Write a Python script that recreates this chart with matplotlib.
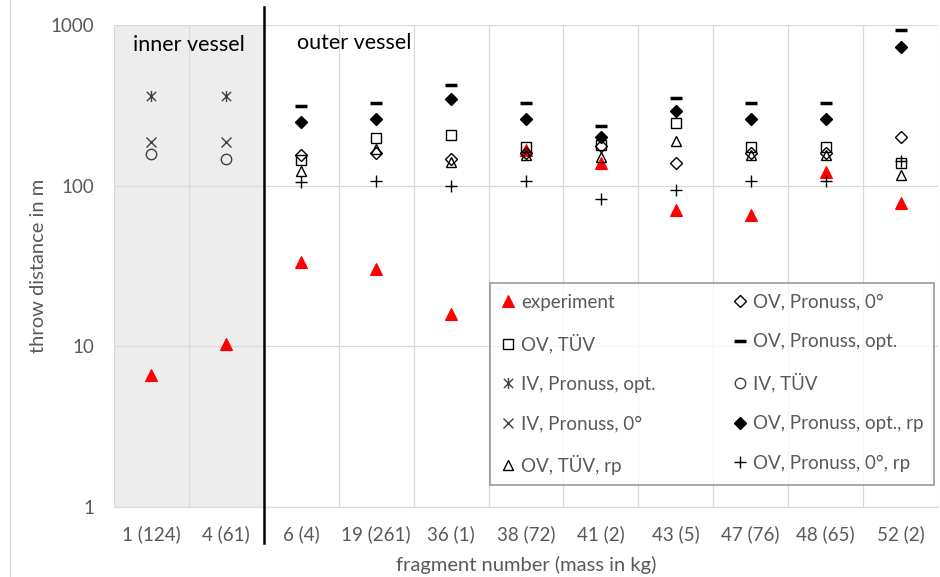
# throw distance of fragments - experiment vs. models

import numpy as np
import matplotlib
matplotlib.use('Agg')
import matplotlib.pyplot as plt
from matplotlib.path import Path
from matplotlib.lines import Line2D

nan = np.nan

# x categories: fragment number (mass in kg)
categories = ['1 (124)', '4 (61)', '6 (4)', '19 (261)', '36 (1)', '38 (72)',
              '41 (2)', '43 (5)', '47 (76)', '48 (65)', '52 (2)']

# throw distance in m
experiment = [6.6, 10.4, 33.7, 30.2, 15.8, 167, 138, 70.6, 65.8, 122, 77.6]
ov_tuv = [nan, nan, 145, 197, 207, 175, 180, 247, 175, 175, 138]
iv_pronuss_opt = [361, 361, nan, nan, nan, nan, nan, nan, nan, nan, nan]
iv_pronuss_0 = [188, 188, nan, nan, nan, nan, nan, nan, nan, nan, nan]
ov_tuv_rp = [nan, nan, 124, 168, 141, 155, 151, 190, 155, 155, 117]
ov_pronuss_0 = [nan, nan, 155, 159, 146, 159, 177, 139, 160, 160, 200]
ov_pronuss_opt = [nan, nan, 315, 329, 421, 326, 235, 350, 326, 326, 931]
iv_tuv = [157, 146, nan, nan, nan, nan, nan, nan, nan, nan, nan]
ov_pronuss_opt_rp = [nan, nan, 249, 261, 348, 261, 202, 292, 261, 261, 733]
ov_pronuss_0_rp = [nan, nan, 105, 107, 99.6, 107, 83, 94, 107, 107, 142]

plt.rcParams['font.family'] = ['Lato', 'DejaVu Sans']

grey_txt = '#595959'
grid_col = '#d9d9d9'

# Excel-style star marker: x with vertical bar
star = Path([(-1, -1), (1, 1), (-1, 1), (1, -1), (0, -1.2), (0, 1.2)],
            [Path.MOVETO, Path.LINETO, Path.MOVETO, Path.LINETO,
             Path.MOVETO, Path.LINETO])

fig = plt.figure(figsize=(9.4, 5.77), dpi=100)
ax = fig.add_axes([114 / 940, 70 / 577, 824 / 940, 482 / 577])

x = np.arange(len(categories))

series = [
    # label, data, marker, size, face, edge, mew
    ('experiment', experiment, '^', 8, 'red', 'red', 0.8),
    ('OV, TÜV', ov_tuv, 's', 7.5, 'none', 'black', 1.0),
    ('IV, Pronuss, opt.', iv_pronuss_opt, star, 8, 'none', '#404040', 1.0),
    ('IV, Pronuss, 0°', iv_pronuss_0, 'x', 7, 'none', '#404040', 1.0),
    ('OV, TÜV, rp', ov_tuv_rp, '^', 7.5, 'none', 'black', 1.0),
    ('OV, Pronuss, 0°', ov_pronuss_0, 'D', 6, 'none', 'black', 1.0),
    ('OV, Pronuss, opt.', ov_pronuss_opt, '_', 8, 'none', 'black', 2.5),
    ('IV, TÜV', iv_tuv, 'o', 7.5, 'none', '#404040', 1.0),
    ('OV, Pronuss, opt., rp', ov_pronuss_opt_rp, 'D', 6, 'black', 'black', 1.0),
    ('OV, Pronuss, 0°, rp', ov_pronuss_0_rp, '+', 9, 'none', 'black', 1.0),
]

handles = []
for label, data, marker, ms, fc, ec, mew in series:
    h, = ax.plot(x, data, linestyle='none', marker=marker, markersize=ms,
                 markerfacecolor=fc, markeredgecolor=ec, markeredgewidth=mew,
                 label=label, zorder=3)
    handles.append(h)

ax.set_yscale('log')
ax.set_ylim(1, 1000)
ax.set_xlim(-0.5, len(categories) - 0.5)
ax.set_yticks([1, 10, 100, 1000])
ax.set_yticklabels(['1', '10', '100', '1000'])
ax.minorticks_off()
ax.set_xticks(x)
ax.set_xticklabels(categories)
ax.set_xticks(np.arange(-0.5, len(categories), 1), minor=True)
ax.tick_params(axis='both', which='both', length=0, labelsize=13.5,
               labelcolor=grey_txt)
ax.tick_params(axis='y', pad=14)
ax.tick_params(axis='x', pad=13)

ax.set_axisbelow(True)
ax.grid(axis='y', which='major', color=grid_col, linewidth=0.9)
ax.grid(axis='x', which='minor', color=grid_col, linewidth=0.9)
for s in ['top', 'right', 'left']:
    ax.spines[s].set_visible(False)
ax.spines['bottom'].set_color(grid_col)

# inner vessel shading and separator
ax.axvspan(-0.5, 1.5, color='#ededed', zorder=0, linewidth=0)
ax.plot([1.5, 1.5], [-0.075, 1.037], color='black', linewidth=1.8,
        transform=ax.get_xaxis_transform(), clip_on=False, zorder=4)

ax.text(0.5, 0.958, 'inner vessel', transform=ax.get_xaxis_transform(),
        ha='center', va='center', fontsize=15.5, color='black')
ax.text(2.7, 0.962, 'outer vessel', transform=ax.get_xaxis_transform(),
        ha='center', va='center', fontsize=15.5, color='black')

ax.set_ylabel('throw distance in m', fontsize=14.5, color=grey_txt)
ax.yaxis.set_label_coords(-0.081, 0.5)
ax.set_xlabel('fragment number (mass in kg)', fontsize=14.5, color=grey_txt,
              labelpad=9)

leg = ax.legend(handles=handles, ncol=2, loc='lower right',
                bbox_to_anchor=(0.995, 0.0456), fontsize=13.5,
                frameon=True, fancybox=False, edgecolor='#808080',
                handlelength=0.8, handletextpad=0.3, columnspacing=4.1,
                labelspacing=1.2, borderpad=0.55, borderaxespad=0,
                labelcolor=grey_txt)
leg.get_frame().set_linewidth(1.2)
leg.set_zorder(5)

# chart border line at the far left
fig.add_artist(Line2D([10 / 940, 10 / 940], [0, 1], color=grid_col,
                      linewidth=0.9, transform=fig.transFigure))

fig.savefig('out.png', dpi=100)
